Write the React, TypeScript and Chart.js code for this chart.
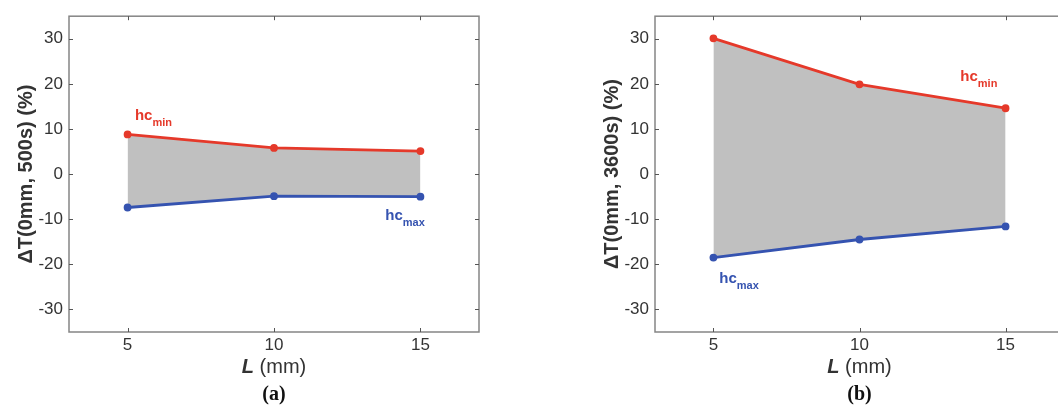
import React, { useEffect, useRef } from "react";
import { Chart, registerables } from "chart.js";

Chart.register(...registerables);

// ---------- data ----------
const lengths = [5, 10, 15];
const xTicks = [5, 10, 15];
const yTicks = [-30, -20, -10, 0, 10, 20, 30];

const hcMinA = [8.8, 5.8, 5.1];
const hcMaxA = [-7.4, -4.9, -5.0];
const hcMinB = [30.1, 19.9, 14.6];
const hcMaxB = [-18.5, -14.5, -11.6];

const yTitleA = "ΔT(0mm, 500s) (%)";
const yTitleB = "ΔT(0mm, 3600s) (%)";
const xTitleBold = "L";
const xTitleRest = " (mm)";
const captionA = "(a)";
const captionB = "(b)";

// label anchor positions in data units [x, y]
const minLabelA = [5.25, 12.0];
const maxLabelA = [13.8, -10.1];
const minLabelB = [13.45, 20.6];
const maxLabelB = [5.2, -24.1];

// ---------- styles ----------
const FONT = '"Liberation Sans", Arial, Helvetica, sans-serif';
const RED = "#e5392a";
const BLUE = "#3553b0";
const FILL = "#c0c0c0";
const FRAME = "#858585";
const TEXT = "#333333";

type PanelProps = {
  left: number;
  width: number;
  padLeft: number;
  padRight: number;
  minVals: number[];
  maxVals: number[];
  yTitle: string;
  caption: string;
  minLabel: number[];
  maxLabel: number[];
};

function Panel(props: PanelProps) {
  const ref = useRef<HTMLCanvasElement | null>(null);

  useEffect(() => {
    const canvas = ref.current;
    if (!canvas) return;

    const decor = {
      id: "decor",
      afterDraw(chart: any) {
        const ctx = chart.ctx;
        const area = chart.chartArea;
        const xs = chart.scales.x;
        const ys = chart.scales.y;
        ctx.save();
        // frame
        ctx.strokeStyle = FRAME;
        ctx.lineWidth = 1.5;
        ctx.strokeRect(area.left, area.top, area.right - area.left, area.bottom - area.top);
        // inward ticks
        ctx.strokeStyle = "#555";
        ctx.lineWidth = 1;
        const tl = 4;
        ctx.beginPath();
        xTicks.forEach((v) => {
          const px = Math.round(xs.getPixelForValue(v)) + 0.5;
          ctx.moveTo(px, area.bottom);
          ctx.lineTo(px, area.bottom - tl);
          ctx.moveTo(px, area.top);
          ctx.lineTo(px, area.top + tl);
        });
        yTicks.forEach((v) => {
          const py = Math.round(ys.getPixelForValue(v)) + 0.5;
          ctx.moveTo(area.left, py);
          ctx.lineTo(area.left + tl, py);
          ctx.moveTo(area.right, py);
          ctx.lineTo(area.right - tl, py);
        });
        ctx.stroke();

        // series labels with subscripts
        const drawLabel = (pos: number[], sub: string, color: string) => {
          const x = xs.getPixelForValue(pos[0]);
          const y = ys.getPixelForValue(pos[1]);
          ctx.fillStyle = color;
          ctx.textAlign = "left";
          ctx.textBaseline = "alphabetic";
          ctx.font = `bold 15px ${FONT}`;
          ctx.fillText("hc", x, y);
          const w = ctx.measureText("hc").width;
          ctx.font = `bold 11px ${FONT}`;
          ctx.fillText(sub, x + w, y + 6);
        };
        drawLabel(props.minLabel, "min", RED);
        drawLabel(props.maxLabel, "max", BLUE);

        // x title with bold italic L
        const cx = (area.left + area.right) / 2;
        ctx.fillStyle = TEXT;
        ctx.textBaseline = "middle";
        ctx.font = `bold italic 20px ${FONT}`;
        const w1 = ctx.measureText(xTitleBold).width;
        ctx.font = `20px ${FONT}`;
        const w2 = ctx.measureText(xTitleRest).width;
        const sx = cx - (w1 + w2) / 2;
        ctx.font = `bold italic 20px ${FONT}`;
        ctx.fillText(xTitleBold, sx, area.bottom + 35);
        ctx.font = `20px ${FONT}`;
        ctx.fillText(xTitleRest, sx + w1, area.bottom + 35);

        // caption
        ctx.fillStyle = "#111";
        ctx.textAlign = "center";
        ctx.font = `bold 20px "Liberation Serif", "Times New Roman", serif`;
        ctx.fillText(props.caption, cx, area.bottom + 63);
        ctx.restore();
      },
    };

    const chart = new Chart(canvas, {
      type: "line",
      data: {
        datasets: [
          {
            label: "hc_min",
            data: lengths.map((x, i) => ({ x, y: props.minVals[i] })),
            borderColor: RED,
            backgroundColor: FILL,
            pointBackgroundColor: RED,
            pointBorderColor: RED,
            pointRadius: 2.5,
            borderWidth: 2.8,
            fill: "+1",
            tension: 0,
          },
          {
            label: "hc_max",
            data: lengths.map((x, i) => ({ x, y: props.maxVals[i] })),
            borderColor: BLUE,
            backgroundColor: BLUE,
            pointBackgroundColor: BLUE,
            pointBorderColor: BLUE,
            pointRadius: 2.5,
            borderWidth: 2.8,
            fill: false,
            tension: 0,
          },
        ],
      },
      options: {
        animation: false,
        responsive: false,
        maintainAspectRatio: false,
        layout: { padding: { left: props.padLeft, right: props.padRight, top: 13, bottom: 0 } },
        plugins: {
          legend: { display: false },
          tooltip: { enabled: false },
          filler: { drawTime: "beforeDatasetsDraw" },
        },
        scales: {
          x: {
            type: "linear",
            min: 3,
            max: 17,
            grid: { display: false, drawTicks: false },
            border: { display: false },
            ticks: {
              color: TEXT,
              font: { family: FONT, size: 17 },
              padding: 3,
              maxRotation: 0,
              autoSkip: false,
            },
            afterBuildTicks: (s: any) => {
              s.ticks = xTicks.map((v) => ({ value: v }));
            },
            afterFit: (s: any) => {
              s.height = 80;
            },
          },
          y: {
            type: "linear",
            min: -35,
            max: 35,
            grid: { display: false, drawTicks: false },
            border: { display: false },
            ticks: {
              color: TEXT,
              font: { family: FONT, size: 17 },
              padding: 6,
              autoSkip: false,
            },
            afterBuildTicks: (s: any) => {
              s.ticks = yTicks.map((v) => ({ value: v }));
            },
            afterFit: (s: any) => {
              s.width = 69;
            },
            title: {
              display: true,
              text: props.yTitle,
              color: TEXT,
              font: { family: FONT, size: 20, weight: "bold" },
              padding: { top: 14, bottom: 0 },
            },
          },
        },
      },
      plugins: [decor],
    } as any);

    return () => chart.destroy();
  }, []);

  return (
    <canvas
      ref={ref}
      width={props.width}
      height={412}
      style={{ position: "absolute", left: props.left, top: 0, width: props.width, height: 412 }}
    />
  );
}

export default function App() {
  return (
    <div
      style={{
        position: "absolute",
        left: 0,
        top: 0,
        width: 1058,
        height: 412,
        overflow: "hidden",
        background: "#ffffff",
      }}
    >
      <Panel
        left={0}
        width={529}
        padLeft={0}
        padRight={50}
        minVals={hcMinA}
        maxVals={hcMaxA}
        yTitle={yTitleA}
        caption={captionA}
        minLabel={minLabelA}
        maxLabel={maxLabelA}
      />
      <Panel
        left={529}
        width={545}
        padLeft={57}
        padRight={10}
        minVals={hcMinB}
        maxVals={hcMaxB}
        yTitle={yTitleB}
        caption={captionB}
        minLabel={minLabelB}
        maxLabel={maxLabelB}
      />
    </div>
  );
}
